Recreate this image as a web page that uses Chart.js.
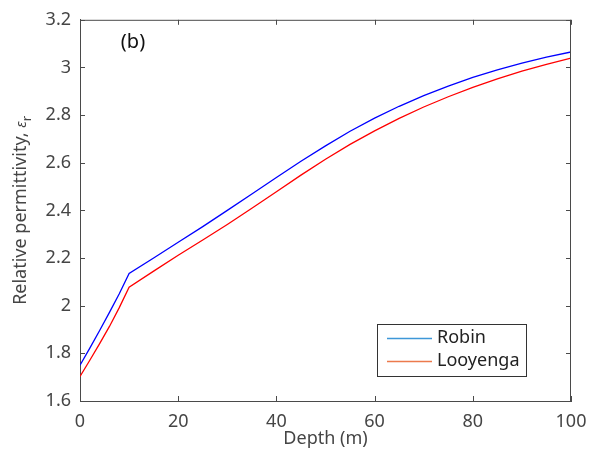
<!DOCTYPE html>
<html><head><meta charset="utf-8">
<script src="https://cdn.jsdelivr.net/npm/chart.js@4.4.1/dist/chart.umd.min.js"></script>
<style>html,body{margin:0;padding:0;background:#fff;overflow:hidden}#wrap{width:598px;height:461px;position:relative}</style>
</head><body><div id="wrap"><canvas id="c"></canvas></div>
<script>
const depths   = [0, 2, 4, 6, 8, 10, 15, 20, 25, 30, 35, 40, 45, 50, 55, 60, 65, 70, 75, 80, 85, 90, 95, 100];
const robin    = [1.750, 1.822, 1.896, 1.972, 2.050, 2.135, 2.200, 2.266, 2.332, 2.400, 2.469, 2.538, 2.606, 2.671, 2.732, 2.787, 2.837, 2.882, 2.922, 2.958, 2.990, 3.018, 3.043, 3.065];
const looyenga = [1.703, 1.771, 1.841, 1.913, 1.992, 2.078, 2.145, 2.212, 2.276, 2.341, 2.409, 2.478, 2.548, 2.615, 2.677, 2.734, 2.786, 2.834, 2.877, 2.916, 2.952, 2.985, 3.013, 3.039];
const seriesNames = ['Robin', 'Looyenga'];
const lineColors = ['#0000ff', '#ff0000'];
const legendColors = ['#3d97d8', '#ec7a4c'];
const xTicks = [0, 20, 40, 60, 80, 100];
const yTicks = [1.6, 1.8, 2, 2.2, 2.4, 2.6, 2.8, 3, 3.2];
const xTitle = 'Depth (m)';
const yTitleMain = 'Relative permittivity, ';
const yTitleSym = 'ε';
const yTitleSub = 'r';
const panelLabel = '(b)';

const FONT = '"Noto Sans", "Open Sans", sans-serif';
const TEXT = '#454545';
const AXIS = '#4a4a4a';

const toPts = arr => arr.map((v, i) => ({x: depths[i], y: v}));

const deco = {
  id: 'deco',
  afterDraw(chart) {
    const ctx = chart.ctx, a = chart.chartArea;
    const xs = chart.scales.x, ys = chart.scales.y;
    ctx.save();
    ctx.strokeStyle = AXIS; ctx.lineWidth = 1;
    ctx.beginPath();
    ctx.moveTo(a.left, a.top + 0.5); ctx.lineTo(a.right, a.top + 0.5);
    ctx.moveTo(a.right - 0.5, a.top); ctx.lineTo(a.right - 0.5, a.bottom);
    ctx.stroke();
    const tl = 5;
    ctx.beginPath();
    xTicks.forEach(v => {
      const px = Math.round(xs.getPixelForValue(v)) + 0.5;
      ctx.moveTo(px, a.bottom); ctx.lineTo(px, a.bottom - tl);
      ctx.moveTo(px, a.top); ctx.lineTo(px, a.top + tl);
    });
    yTicks.forEach(v => {
      const py = Math.round(ys.getPixelForValue(v)) + 0.5;
      ctx.moveTo(a.left, py); ctx.lineTo(a.left + tl, py);
      ctx.moveTo(a.right, py); ctx.lineTo(a.right - tl, py);
    });
    ctx.stroke();

    ctx.fillStyle = '#111';
    ctx.font = '20px ' + FONT;
    ctx.textAlign = 'center'; ctx.textBaseline = 'middle';
    ctx.fillText(panelLabel, 133, 42);

    ctx.fillStyle = TEXT;
    ctx.font = '18px ' + FONT;
    ctx.fillText(xTitle, (a.left + a.right) / 2, 439);

    ctx.save();
    ctx.translate(20, (a.top + a.bottom) / 2);
    ctx.rotate(-Math.PI / 2);
    ctx.textAlign = 'left'; ctx.textBaseline = 'alphabetic';
    ctx.font = '18px ' + FONT;
    const w1 = ctx.measureText(yTitleMain).width;
    ctx.font = 'italic 15px ' + FONT;
    const w2 = ctx.measureText(yTitleSym).width;
    ctx.font = '13px ' + FONT;
    const w3 = ctx.measureText(yTitleSub).width;
    let x0 = -(w1 + w2 + w3) / 2;
    const base = 6;
    ctx.font = '18px ' + FONT; ctx.fillText(yTitleMain, x0, base); x0 += w1;
    ctx.font = 'italic 15px ' + FONT; ctx.fillText(yTitleSym, x0, base); x0 += w2;
    ctx.font = '13px ' + FONT; ctx.fillText(yTitleSub, x0, base + 5);
    ctx.restore();

    const bx = 377.5, by = 324.5, bw = 149, bh = 52;
    ctx.fillStyle = '#fff';
    ctx.fillRect(bx, by, bw, bh);
    ctx.strokeStyle = '#333';
    ctx.strokeRect(bx, by, bw, bh);
    ctx.font = '18px ' + FONT;
    ctx.textAlign = 'left'; ctx.textBaseline = 'middle';
    const rows = [338, 361];
    seriesNames.forEach((n, i) => {
      ctx.strokeStyle = legendColors[i]; ctx.lineWidth = 1.3;
      ctx.beginPath(); ctx.moveTo(387, rows[i] + 0.5); ctx.lineTo(432, rows[i] + 0.5); ctx.stroke();
      ctx.fillStyle = '#222';
      ctx.fillText(n, 437, rows[i]);
    });
    ctx.restore();
  }
};

new Chart(document.getElementById('c'), {
  type: 'line',
  data: {
    datasets: [
      {label: seriesNames[0], data: toPts(robin), borderColor: lineColors[0], borderWidth: 1.3, pointRadius: 0, tension: 0, fill: false},
      {label: seriesNames[1], data: toPts(looyenga), borderColor: lineColors[1], borderWidth: 1.3, pointRadius: 0, tension: 0, fill: false}
    ]
  },
  options: {
    responsive: true, maintainAspectRatio: false, animation: false,
    layout: {padding: {left: 0, top: 17, right: 27, bottom: 0}},
    plugins: {legend: {display: false}, tooltip: {enabled: false}},
    scales: {
      x: {
        type: 'linear', min: 0, max: 100,
        afterBuildTicks: s => { s.ticks = xTicks.map(v => ({value: v})); },
        afterFit: s => { s.height = 60; },
        grid: {display: false, drawTicks: false},
        border: {display: true, color: AXIS, width: 1},
        ticks: {padding: 10, color: TEXT, font: {family: FONT, size: 18}, maxRotation: 0, autoSkip: false,
                callback: v => String(v)}
      },
      y: {
        type: 'linear', min: 1.6, max: 3.2,
        afterBuildTicks: s => { s.ticks = yTicks.map(v => ({value: v})); },
        afterFit: s => { s.width = 80; },
        grid: {display: false, drawTicks: false},
        border: {display: true, color: AXIS, width: 1},
        ticks: {padding: 9, color: TEXT, font: {family: FONT, size: 18}, autoSkip: false,
                callback: v => String(Number(v.toFixed(1)))}
      }
    }
  },
  plugins: [deco]
});
</script>
</body></html>
